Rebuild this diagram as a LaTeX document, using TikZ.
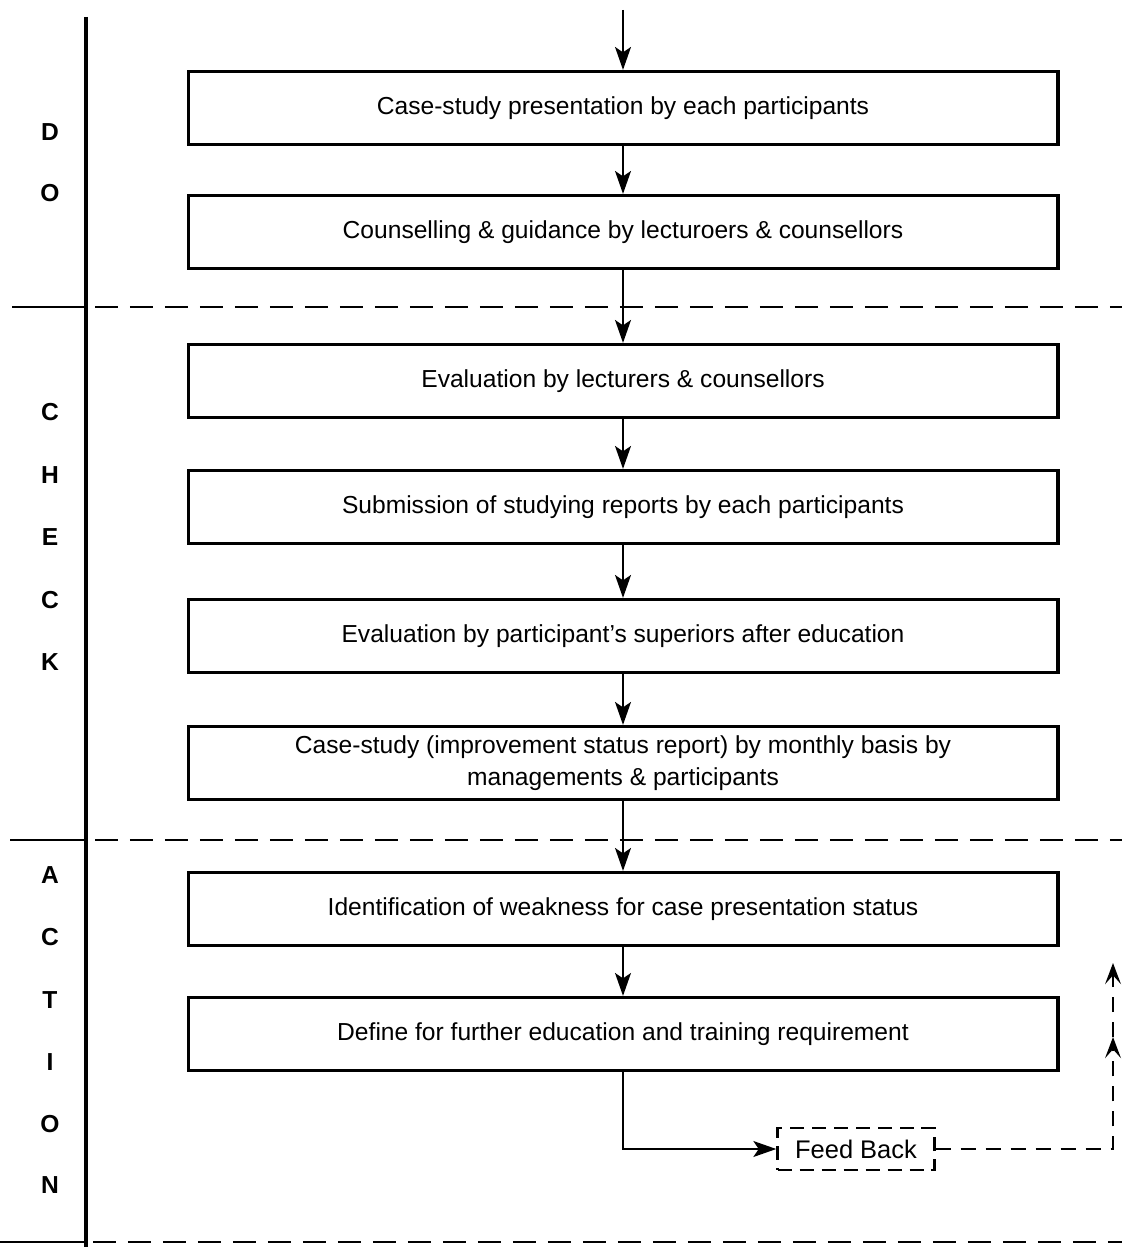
\documentclass[tikz,border=0pt]{standalone}
\usepackage{fontspec}
\setmainfont{Liberation Sans}
\usetikzlibrary{arrows.meta}

\begin{document}
\begin{tikzpicture}[x=0.02cm,y=-0.02cm,
  stage/.style={draw,line width=1.8pt,minimum width=17.4cm,minimum height=1.46cm,
    align=center,font=\fontsize{14}{18}\selectfont},
  phase/.style={font=\bfseries\fontsize{14}{16}\selectfont},
  flow/.style={line width=1.5pt,-{Stealth[length=13pt,width=9pt,inset=3pt]}},
  divider/.style={line width=1.5pt,dash pattern=on 0.46cm off 0.24cm},
  fbbox/.style={draw,line width=1.4pt,dash pattern=on 0.28cm off 0.16cm,
    minimum width=3.14cm,minimum height=0.84cm,font=\fontsize{14.5}{17}\selectfont},
  fbline/.style={line width=1.4pt,dash pattern=on 0.3cm off 0.2cm,
    -{Stealth[length=12pt,width=9pt,inset=5pt]}}]
  \useasboundingbox (0,0) rectangle (1122,1247);

  % phase column and dividers
  \draw [line width=1.8pt] (86,17) -- (86,1247);
  \draw [line width=1.5pt] (12,307) -- (86,307);
  \draw [divider] (95,307) -- (1122,307);
  \draw [line width=1.5pt] (10,840) -- (86,840);
  \draw [divider] (95,840) -- (1122,840);
  \draw [line width=1.5pt] (0,1242) -- (86,1242);
  \draw [divider] (93,1242) -- (1122,1242);

  % phase letters
  \node [phase] (d1) at (50,132) {D};
  \node [phase] (d2) at (50,193) {O};
  \node [phase] (c1) at (50,412) {C};
  \node [phase] (c2) at (50,475) {H};
  \node [phase] (c3) at (50,537) {E};
  \node [phase] (c4) at (50,600) {C};
  \node [phase] (c5) at (50,662) {K};
  \node [phase] (a1) at (50,875) {A};
  \node [phase] (a2) at (50,937) {C};
  \node [phase] (a3) at (50,1000) {T};
  \node [phase] (a4) at (50,1062) {I};
  \node [phase] (a5) at (50,1124) {O};
  \node [phase] (a6) at (50,1185) {N};

  % steps
  \node [stage] (present)  at (623,108)  {Case-study presentation by each participants};
  \node [stage] (counsel)  at (623,232)  {Counselling \& guidance by lecturoers \& counsellors};
  \node [stage] (evallect) at (623,381)  {Evaluation by lecturers \& counsellors};
  \node [stage] (submit)   at (623,507)  {Submission of studying reports by each participants};
  \node [stage] (evalsup)  at (623,636)  {Evaluation by participant's superiors after education};
  \node [stage] (monthly)  at (623,763)  {Case-study (improvement status report) by monthly basis by\\managements \& participants};
  \node [stage] (weakness) at (623,909)  {Identification of weakness for case presentation status};
  \node [stage] (define)   at (623,1034) {Define for further education and training requirement};

  % flow between steps
  \coordinate (start) at (623,10);
  \draw [flow] (start) -- (present);
  \draw [flow] (present) -- (counsel);
  \draw [flow] (counsel) -- (evallect);
  \draw [flow] (evallect) -- (submit);
  \draw [flow] (submit) -- (evalsup);
  \draw [flow] (evalsup) -- (monthly);
  \draw [flow] (monthly) -- (weakness);
  \draw [flow] (weakness) -- (define);

  % feed back loop
  \node [fbbox] (fb) at (856,1149) {Feed Back};
  \draw [flow] (define.south) |- (fb.west);
  \coordinate (fbcorner) at (1113,1149);
  \coordinate (fbmid) at (1113,1037);
  \coordinate (fbtop) at (1113,963);
  \draw [fbline] (fb.east) -- (fbcorner) -- (fbmid);
  \draw [fbline] (fbmid) -- (fbtop);

\end{tikzpicture}
\end{document}
